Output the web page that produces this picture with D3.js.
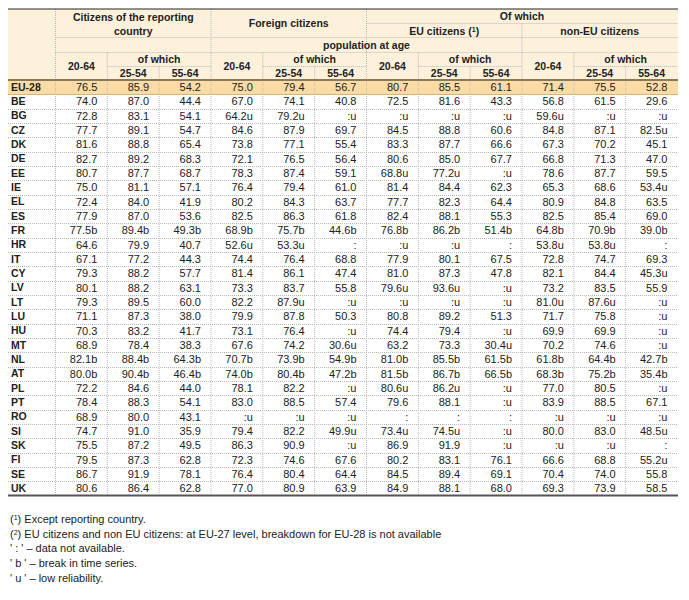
<!DOCTYPE html>
<html>
<head>
<meta charset="utf-8">
<script src="https://cdn.jsdelivr.net/npm/d3@7"></script>
<style>
  body { margin: 0; background: #fff; }
  svg text { font-family: "Liberation Sans", Arial, sans-serif; fill: #222; }
</style>
</head>
<body>
<script>
// rows of the table
const countries = ['EU-28','BE','BG','CZ','DK','DE','EE','IE','EL','ES','FR','HR','IT','CY','LV','LT','LU','HU','MT','NL','AT','PL','PT','RO','SI','SK','FI','SE','UK']

// citizens of the reporting country
const reporting2064 = ['76.5','74.0','72.8','77.7','81.6','82.7','80.7','75.0','72.4','77.9','77.5b','64.6','67.1','79.3','80.1','79.3','71.1','70.3','68.9','82.1b','80.0b','72.2','78.4','68.9','74.7','75.5','79.5','86.7','80.6']
const reporting2554 = ['85.9','87.0','83.1','89.1','88.8','89.2','87.7','81.1','84.0','87.0','89.4b','79.9','77.2','88.2','88.2','89.5','87.3','83.2','78.4','88.4b','90.4b','84.6','88.3','80.0','91.0','87.2','87.3','91.9','86.4']
const reporting5564 = ['54.2','44.4','54.1','54.7','65.4','68.3','68.7','57.1','41.9','53.6','49.3b','40.7','44.3','57.7','63.1','60.0','38.0','41.7','38.3','64.3b','46.4b','44.0','54.1','43.1','35.9','49.5','62.8','78.1','62.8']

// foreign citizens
const foreign2064 = ['75.0','67.0','64.2u','84.6','73.8','72.1','78.3','76.4','80.2','82.5','68.9b','52.6u','74.4','81.4','73.3','82.2','79.9','73.1','67.6','70.7b','74.0b','78.1','83.0',':u','79.4','86.3','72.3','76.4','77.0']
const foreign2554 = ['79.4','74.1','79.2u','87.9','77.1','76.5','87.4','79.4','84.3','86.3','75.7b','53.3u','76.4','86.1','83.7','87.9u','87.8','76.4','74.2','73.9b','80.4b','82.2','88.5',':u','82.2','90.9','74.6','80.4','80.9']
const foreign5564 = ['56.7','40.8',':u','69.7','55.4','56.4','59.1','61.0','63.7','61.8','44.6b',':','68.8','47.4','55.8',':u','50.3',':u','30.6u','54.9b','47.2b',':u','57.4',':u','49.9u',':u','67.6','64.4','63.9']

// of which EU citizens
const eu2064 = ['80.7','72.5',':u','84.5','83.3','80.6','68.8u','81.4','77.7','82.4','76.8b',':u','77.9','81.0','79.6u',':u','80.8','74.4','63.2','81.0b','81.5b','80.6u','79.6',':','73.4u','86.9','80.2','84.5','84.9']
const eu2554 = ['85.5','81.6',':u','88.8','87.7','85.0','77.2u','84.4','82.3','88.1','86.2b',':u','80.1','87.3','93.6u',':u','89.2','79.4','73.3','85.5b','86.7b','86.2u','88.1',':','74.5u','91.9','83.1','89.4','88.1']
const eu5564 = ['61.1','43.3',':u','60.6','66.6','67.7',':u','62.3','64.4','55.3','51.4b',':','67.5','47.8',':u',':u','51.3',':u','30.4u','61.5b','66.5b',':u',':u',':',':u',':u','76.1','69.1','68.0']

// of which non-EU citizens
const nonEu2064 = ['71.4','56.8','59.6u','84.8','67.3','66.8','78.6','65.3','80.9','82.5','64.8b','53.8u','72.8','82.1','73.2','81.0u','71.7','69.9','70.2','61.8b','68.3b','77.0','83.9',':u','80.0',':u','66.6','70.4','69.3']
const nonEu2554 = ['75.5','61.5',':u','87.1','70.2','71.3','87.7','68.6','84.8','85.4','70.9b','53.8u','74.7','84.4','83.5','87.6u','75.8','69.9','74.6','64.4b','75.2b','80.5','88.5',':u','83.0',':u','68.8','74.0','73.9']
const nonEu5564 = ['52.8','29.6',':u','82.5u','45.1','47.0','59.5','53.4u','63.5','69.0','39.0b',':','69.3','45.3u','55.9',':u',':u',':u',':u','42.7b','35.4b',':u','67.1',':u','48.5u',':','55.2u','55.8','58.5']

const ageLabels = ['20-64', '25-54', '55-64']

const footnotes = [
  { sup: '1', text: ' Except reporting country.' },
  { sup: '2', text: ' EU citizens and non EU citizens: at EU-27 level, breakdown for EU-28 is not available' },
  { text: "' : ' \u2013 data not available." },
  { text: "' b ' \u2013 break in time series." },
  { text: "' u ' \u2013 low reliability." }
]

const columns = [
  reporting2064, reporting2554, reporting5564,
  foreign2064, foreign2554, foreign5564,
  eu2064, eu2554, eu5564,
  nonEu2064, nonEu2554, nonEu5564
]

const w = 689
const h = 600
const tableLeft = 8
const tableRight = 678
const tableTop = 9
const headBottom = 80
const tableBottom = 495.5

const xScale = d3.scaleBand()
  .domain(d3.range(columns.length))
  .range([55.5, 677.5])
const yScale = d3.scaleBand()
  .domain(countries)
  .range([headBottom, tableBottom])

const bw = xScale.bandwidth()
const rh = yScale.bandwidth()
const colX = i => i < columns.length ? xScale(i) : xScale(columns.length - 1) + bw

const svg = d3.select('body')
  .append('svg')
  .attr('width', w)
  .attr('height', h)

// backgrounds
svg.append('rect')
  .attr('x', tableLeft).attr('y', tableTop)
  .attr('width', tableRight - tableLeft).attr('height', headBottom - tableTop)
  .attr('fill', '#fdf1dc')
svg.append('rect')
  .attr('x', tableLeft).attr('y', yScale('EU-28'))
  .attr('width', tableRight - tableLeft).attr('height', rh)
  .attr('fill', '#fcdca6')

const dotted = (x1, y1, x2, y2) => svg.append('line')
  .attr('x1', x1).attr('y1', y1).attr('x2', x2).attr('y2', y2)
  .attr('stroke', '#b8b8b8')
  .attr('stroke-width', 1)
  .attr('stroke-dasharray', '1,1')

// header grid
dotted(colX(0), tableTop, colX(0), headBottom)
dotted(colX(3), tableTop, colX(3), headBottom)
dotted(colX(6), tableTop, colX(6), headBottom)
dotted(colX(9), 23.5, colX(9), headBottom)
dotted(colX(6), 23.5, tableRight, 23.5)
dotted(colX(0), 37.5, tableRight, 37.5)
dotted(colX(0), 52.5, tableRight, 52.5)
for (let g = 0; g < 4; g++) {
  dotted(colX(3 * g + 1), 52.5, colX(3 * g + 1), headBottom)
  dotted(colX(3 * g + 2), 66.5, colX(3 * g + 2), headBottom)
  dotted(colX(3 * g + 1), 66.5, colX(3 * g + 3), 66.5)
}

// body grid
countries.slice(2).forEach(c => dotted(tableLeft, Math.round(yScale(c)) + 0.5, tableRight, Math.round(yScale(c)) + 0.5))
d3.range(columns.length).forEach(i => dotted(colX(i), headBottom + 2, colX(i), tableBottom - 1))

// solid rules
const rule = (y, color, width) => svg.append('line')
  .attr('x1', tableLeft).attr('x2', tableRight).attr('y1', y).attr('y2', y)
  .attr('stroke', color).attr('stroke-width', width)
rule(tableTop, '#222', 1)
rule(headBottom, '#8a7a5c', 2)
rule(Math.round(yScale('BE')) + 0.5, '#e2b366', 1)
rule(tableBottom, '#555', 2)

// header text
const head = (x, y, txt, size) => svg.append('text')
  .attr('x', x).attr('y', y)
  .attr('text-anchor', 'middle')
  .attr('dy', '0.35em')
  .attr('font-size', size || 10.5)
  .attr('font-weight', 'bold')
  .text(txt)

const groupMid = g => (colX(3 * g) + colX(3 * g + 3)) / 2
head(groupMid(0), 17, 'Citizens of the reporting')
head(groupMid(0), 31.5, 'country')
head(groupMid(1), 23.5, 'Foreign citizens')
head((colX(6) + colX(12)) / 2, 16, 'Of which')
const euHead = head(groupMid(2), 31, 'EU citizens (')
euHead.append('tspan').attr('font-size', 7).attr('dy', '-0.45em').text('1')
euHead.append('tspan').attr('dy', '0.3em').text(')')
head(groupMid(3), 31, 'non-EU citizens')
head((colX(0) + colX(12)) / 2, 45, 'population at age')
for (let g = 0; g < 4; g++) {
  head(colX(3 * g) + bw / 2, 66, ageLabels[0])
  head(colX(3 * g + 1) + bw, 59.5, 'of which')
  head(colX(3 * g + 1) + bw / 2, 73.5, ageLabels[1])
  head(colX(3 * g + 2) + bw / 2, 73.5, ageLabels[2])
}

// row labels
svg.append('g')
  .selectAll('text')
  .data(countries)
  .enter()
  .append('text')
  .attr('x', tableLeft + 3)
  .attr('y', d => yScale(d) + rh / 2)
  .attr('dy', '0.35em')
  .attr('font-size', 10.5)
  .attr('font-weight', 'bold')
  .text(d => d)

// values
columns.forEach((vals, i) => {
  svg.append('g')
    .selectAll('text')
    .data(vals)
    .enter()
    .append('text')
    .attr('x', colX(i) + bw - 10)
    .attr('y', (d, j) => yScale(countries[j]) + rh / 2)
    .attr('dy', '0.35em')
    .attr('text-anchor', 'end')
    .attr('font-size', 11)
    .text(d => d)
})

// footnotes
footnotes.forEach((f, i) => {
  const t = svg.append('text')
    .attr('x', 10)
    .attr('y', 519 + i * 14.8)
    .attr('dy', '0.35em')
    .attr('font-size', 11)
    .attr('fill', '#333')
  if (f.sup) {
    t.append('tspan').text('(')
    t.append('tspan').attr('font-size', 7).attr('dy', '-0.45em').text(f.sup)
    t.append('tspan').attr('dy', '0.3em').text(')' + f.text)
  } else {
    t.text(f.text)
  }
})
</script>
</body>
</html>
